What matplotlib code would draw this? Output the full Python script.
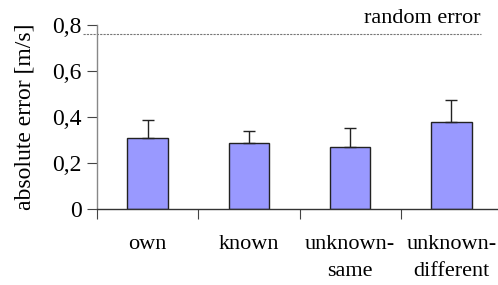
import matplotlib
matplotlib.use("Agg")
import matplotlib.pyplot as plt
import numpy as np

categories = ["own", "known", "unknown-\nsame", "unknown-\ndifferent"]
values = [0.309, 0.287, 0.268, 0.377]
errors = [0.078, 0.052, 0.083, 0.097]
random_error = 0.76
yticks = [0, 0.2, 0.4, 0.6, 0.8]
ytick_labels = ["0", "0,2", "0,4", "0,6", "0,8"]

plt.rcParams['font.family'] = ['Liberation Serif', 'DejaVu Serif']

fig = plt.figure(figsize=(4.98, 2.85), dpi=100)
ax = fig.add_axes([97/498, 76/285, 405/498, 184/285])

x = np.arange(len(categories))
ax.bar(x, values, width=0.4, color="#9999ff", edgecolor="#222222", linewidth=1.0, zorder=2)
ax.errorbar(x, values, yerr=[np.zeros(len(errors)), errors], fmt="none",
            ecolor="#222222", elinewidth=1.0, capsize=4, capthick=1.0, zorder=3)

ax.axhline(random_error, xmin=-0.035, xmax=0.948, color="#777777", linestyle=(0, (2, 1)),
           linewidth=0.8, clip_on=False, zorder=1)
ax.text(0.948, random_error + 0.025, "random error", transform=ax.get_yaxis_transform(),
        ha="right", va="bottom", fontsize=16)

ax.set_xlim(-0.5, len(categories) - 0.5)
ax.set_ylim(0, 0.8)
ax.set_yticks(yticks)
ax.set_yticklabels(ytick_labels)
ax.set_xticks(np.arange(len(categories)) - 0.5, minor=True)
ax.set_xticks(x)
ax.tick_params(axis="x", which="major", length=0, pad=19, labelsize=16)
ax.tick_params(axis="x", which="minor", length=7, direction="out", width=0.8, color="#444444")
ax.tick_params(axis="y", length=7, direction="out", width=0.8, color="#444444", pad=4, labelsize=17)
ax.set_xticklabels(categories, linespacing=1.55)

ax.set_ylabel("absolute error [m/s]", fontsize=17, labelpad=12)

for s in ["top", "right"]:
    ax.spines[s].set_visible(False)
ax.spines["left"].set_color("#888888")
ax.spines["left"].set_linewidth(1.0)
ax.spines["bottom"].set_color("#333333")
ax.spines["bottom"].set_linewidth(1.0)

fig.savefig("out.png", dpi=100)
